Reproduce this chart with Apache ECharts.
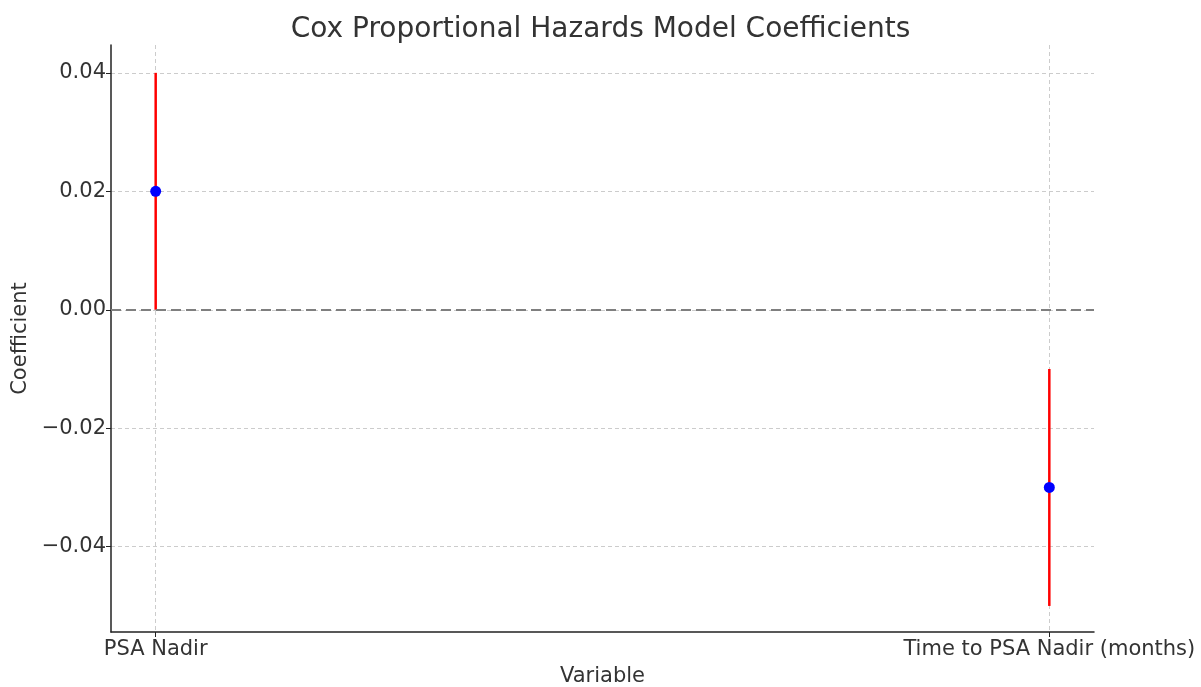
<!DOCTYPE html>
<html>
<head>
<meta charset="utf-8">
<script src="https://cdn.jsdelivr.net/npm/echarts@6/dist/echarts.min.js"></script>
<style>
  html, body { margin: 0; padding: 0; background: #fff; }
  #chart { width: 1201px; height: 687px; }
</style>
</head>
<body>
<div id="chart"></div>
<script>
// data
var variables = ['PSA Nadir', 'Time to PSA Nadir (months)'];
var coefs = [0.02, -0.03];
var lowerCI = [0.0, -0.05];
var upperCI = [0.04, -0.01];
var yTicks = [-0.04, -0.02, 0, 0.02, 0.04];

var font = 'DejaVu Sans';
var txt = '#333333';

var myChart = echarts.init(document.getElementById('chart'));

var barData = variables.map(function (v, i) { return [i, lowerCI[i], upperCI[i]]; });
var pointData = variables.map(function (v, i) { return [i, coefs[i]]; });

var option = {
  animation: false,
  title: {
    text: 'Cox Proportional Hazards Model Coefficients',
    left: 'center',
    top: 11,
    textStyle: { fontFamily: font, fontSize: 28, fontWeight: 'normal', color: txt }
  },
  grid: { left: 111, right: 107, top: 45, bottom: 55, outerBoundsMode: 'none', containLabel: false },
  xAxis: {
    type: 'value',
    min: -0.05,
    max: 1.05,
    name: 'Variable',
    nameLocation: 'middle',
    nameGap: 34,
    nameTextStyle: { fontFamily: font, fontSize: 21, color: txt },
    axisLine: { show: true, onZero: false, lineStyle: { color: '#222', width: 1.5 } },
    axisTick: { show: true, customValues: [0, 1], length: 5, lineStyle: { color: '#222' } },
    axisLabel: {
      customValues: [0, 1],
      fontFamily: font, fontSize: 21, color: txt, margin: 7,
      formatter: function (v) { return variables[Math.round(v)]; }
    },
    splitLine: { show: true, lineStyle: { color: '#cccccc', type: [4, 3], width: 1 } }
  },
  yAxis: {
    type: 'value',
    min: -0.0544,
    max: 0.0447,
    name: 'Coefficient',
    nameLocation: 'middle',
    nameGap: 72,
    nameRotate: 90,
    nameTextStyle: { fontFamily: font, fontSize: 21, color: txt },
    axisLine: { show: true, onZero: false, lineStyle: { color: '#222', width: 1.5 } },
    axisTick: { show: true, customValues: yTicks, length: 5, lineStyle: { color: '#222' } },
    axisLabel: {
      customValues: yTicks,
      fontFamily: font, fontSize: 21, color: txt, margin: 5,
      formatter: function (v) {
        var s = Math.abs(v).toFixed(2);
        return v < -1e-9 ? '\u2212' + s : s;
      }
    },
    splitLine: { show: true, lineStyle: { color: '#cccccc', type: [4, 3], width: 1 } }
  },
  series: [
    {
      type: 'custom',
      data: barData,
      z: 3,
      renderItem: function (params, api) {
        var p1 = api.coord([api.value(0), api.value(1)]);
        var p2 = api.coord([api.value(0), api.value(2)]);
        return {
          type: 'line',
          shape: { x1: p1[0], y1: p1[1], x2: p2[0], y2: p2[1] },
          style: { stroke: '#ff0000', lineWidth: 2.5 }
        };
      },
      markLine: {
        silent: true,
        symbol: 'none',
        label: { show: false },
        lineStyle: { color: '#7f7f7f', type: [10, 5], width: 2.2 },
        data: [{ yAxis: 0 }]
      }
    },
    {
      type: 'scatter',
      data: pointData,
      symbolSize: 11,
      z: 4,
      itemStyle: { color: '#0000ff', opacity: 1 }
    }
  ]
};
myChart.setOption(option);
window.onresize = function () {
  myChart.resize();
};
</script>
</body>
</html>
